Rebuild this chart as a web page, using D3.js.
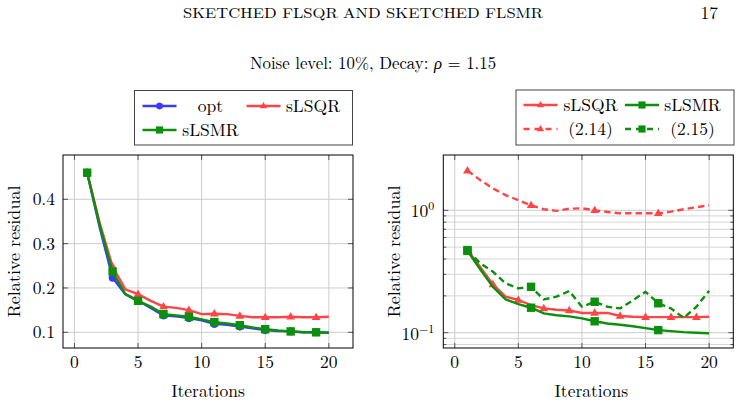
<!DOCTYPE html>
<html><head><meta charset="utf-8">
<script src="https://cdn.jsdelivr.net/npm/d3@7"></script>
<style>
html,body{margin:0;padding:0;background:#fff;}
svg text{font-family:"Latin Modern Roman","Liberation Serif","DejaVu Serif",serif;fill:#000;}
</style></head>
<body>
<script>
// ---------- data ----------
const iterations = [1,2,3,4,5,6,7,8,9,10,11,12,13,14,15,16,17,18,19,20];
const optLeft   = [0.460,0.335,0.223,0.186,0.171,0.155,0.138,0.136,0.132,0.127,0.119,0.117,0.113,0.109,0.105,0.103,0.102,0.100,0.100,0.099];
const sLSQRLeft = [0.460,0.345,0.248,0.197,0.186,0.171,0.158,0.155,0.150,0.141,0.142,0.141,0.137,0.134,0.134,0.134,0.135,0.134,0.134,0.135];
const sLSMRLeft = [0.460,0.340,0.237,0.186,0.171,0.158,0.141,0.138,0.135,0.129,0.123,0.120,0.116,0.111,0.107,0.104,0.102,0.100,0.100,0.099];
const sLSQRRight = [0.474,0.345,0.248,0.197,0.185,0.168,0.158,0.154,0.152,0.145,0.145,0.145,0.137,0.135,0.134,0.134,0.134,0.134,0.134,0.135];
const sLSMRRight = [0.466,0.330,0.237,0.187,0.171,0.160,0.144,0.139,0.136,0.131,0.124,0.119,0.116,0.113,0.109,0.105,0.103,0.101,0.100,0.099];
const eq214 = [2.11,1.77,1.51,1.33,1.21,1.10,1.02,0.99,1.03,1.04,1.00,0.97,0.945,0.945,0.945,0.945,0.975,1.02,1.06,1.10];
const eq215 = [0.473,0.369,0.315,0.253,0.230,0.237,0.187,0.197,0.219,0.163,0.179,0.163,0.158,0.184,0.216,0.174,0.158,0.132,0.163,0.220];
const xTicks = [0,5,10,15,20];
const yTicksLeft = [0.1,0.2,0.3,0.4];
const yTicksRightMajor = [0.1,1];
const yTicksRightMinor = [0.08,0.09,0.2,0.3,0.4,0.5,0.6,0.7,0.8,0.9];
const headerText = "SKETCHED FLSQR AND SKETCHED FLSMR";
const pageNumber = "17";
const legendLeft = ["opt","sLSQR","sLSMR"];
const legendRight = ["sLSQR","sLSMR","(2.14)","(2.15)"];

// ---------- styles ----------
const BLUE="#3a3aff", RED="#ff4545", GREEN="#0c8f0c";
const FS=17.5;

const W=742,H=405;
const svg=d3.select("body").append("svg").attr("width",W).attr("height",H);

// header
svg.append("text").attr("x",363).attr("y",18).attr("text-anchor","middle")
  .attr("font-size",14).attr("textLength",360).attr("lengthAdjust","spacingAndGlyphs").text(headerText);
svg.append("text").attr("x",718).attr("y",19).attr("text-anchor","end").attr("font-size",FS).text(pageNumber);
const title=svg.append("text").attr("x",373).attr("y",69).attr("text-anchor","middle").attr("font-size",16.8);
title.append("tspan").text("Noise level: 10%, Decay: ");
title.append("tspan").attr("font-style","italic").text("ρ");
title.append("tspan").text(" = 1.15");

function markerPath(g, type, x, y, color, small){
  const k=small?0.85:1;
  if(type==="circle"){
    g.append("circle").attr("cx",x).attr("cy",y).attr("r",3.6*k).attr("fill",color).attr("stroke",color).attr("stroke-width",1);
  } else if(type==="square"){
    g.append("rect").attr("x",x-4.2*k).attr("y",y-4.2*k).attr("width",8.4*k).attr("height",8.4*k).attr("fill",color);
  } else if(type==="triangle"){
    const s=4.6*k;
    g.append("path").attr("d",`M${x},${y-s}L${x+s*0.95},${y+s*0.6}L${x-s*0.95},${y+s*0.6}Z`).attr("fill",color);
  }
}

function panel(cfg){
  const {x0,x1,y0,y1}=cfg;
  const g=svg.append("g");
  const xs=d3.scaleLinear().domain([-0.9,21.9]).range([x0,x1]);
  const ys=cfg.log? d3.scaleLog().domain(cfg.ydom).range([y1,y0]) : d3.scaleLinear().domain(cfg.ydom).range([y1,y0]);
  if(cfg.minor){
    g.selectAll(".mg").data(cfg.minor).join("line")
      .attr("x1",x0).attr("x2",x1).attr("y1",d=>ys(d)).attr("y2",d=>ys(d))
      .attr("stroke","#d6d6d6").attr("stroke-width",1);
  }
  g.selectAll(".gx").data(xTicks).join("line")
    .attr("x1",d=>xs(d)).attr("x2",d=>xs(d)).attr("y1",y0).attr("y2",y1)
    .attr("stroke","#cccccc").attr("stroke-width",1);
  g.selectAll(".gy").data(cfg.yticks).join("line")
    .attr("x1",x0).attr("x2",x1).attr("y1",d=>ys(d)).attr("y2",d=>ys(d))
    .attr("stroke","#cccccc").attr("stroke-width",1);
  const tk=g.append("g").attr("stroke","#555").attr("stroke-width",1);
  xTicks.forEach(d=>{
    tk.append("line").attr("x1",xs(d)).attr("x2",xs(d)).attr("y1",y1).attr("y2",y1-5);
    tk.append("line").attr("x1",xs(d)).attr("x2",xs(d)).attr("y1",y0).attr("y2",y0+5);
  });
  cfg.yticks.forEach(d=>{
    tk.append("line").attr("x1",x0).attr("x2",x0+5).attr("y1",ys(d)).attr("y2",ys(d));
    tk.append("line").attr("x1",x1).attr("x2",x1-5).attr("y1",ys(d)).attr("y2",ys(d));
  });
  if(cfg.minor){
    cfg.minor.forEach(d=>{
      tk.append("line").attr("x1",x0).attr("x2",x0+3).attr("y1",ys(d)).attr("y2",ys(d));
      tk.append("line").attr("x1",x1).attr("x2",x1-3).attr("y1",ys(d)).attr("y2",ys(d));
    });
  }
  const clip="clip"+Math.round(x0);
  svg.append("clipPath").attr("id",clip).append("rect").attr("x",x0).attr("y",y0).attr("width",x1-x0).attr("height",y1-y0);
  const sg=g.append("g").attr("clip-path",`url(#${clip})`);
  cfg.series.forEach(s=>{
    const line=d3.line().x((d,i)=>xs(iterations[i])).y(d=>ys(d));
    sg.append("path").datum(s.values).attr("d",line).attr("fill","none")
      .attr("stroke",s.color).attr("stroke-width",2.4).attr("stroke-linejoin","round")
      .attr("stroke-dasharray",s.dash?"6.5,4":null);
    s.values.forEach((v,i)=>{
      if(s.marks.includes(iterations[i])) markerPath(sg,s.marker,xs(iterations[i]),ys(v),s.color);
    });
  });
  g.append("rect").attr("x",x0).attr("y",y0).attr("width",x1-x0).attr("height",y1-y0)
    .attr("fill","none").attr("stroke","#000").attr("stroke-width",1);
  g.selectAll(".xl").data(xTicks).join("text")
    .attr("x",d=>xs(d)).attr("y",y1+20).attr("text-anchor","middle").attr("font-size",FS).text(d=>d);
  if(!cfg.log){
    g.selectAll(".yl").data(cfg.yticks).join("text")
      .attr("x",x0-8).attr("y",d=>ys(d)+6).attr("text-anchor","end").attr("font-size",FS).text(d=>d3.format(".1f")(d));
  } else {
    cfg.yticks.forEach(d=>{
      const t=g.append("text").attr("x",x0-9).attr("y",ys(d)+7).attr("text-anchor","end").attr("font-size",FS);
      const e=Math.round(Math.log10(d));
      t.append("tspan").text("10");
      t.append("tspan").attr("dy",-7).attr("font-size",12).text(e<0?"\u2212"+(-e):String(e));
    });
  }
  g.append("text").attr("x",(x0+x1)/2+(cfg.log?3:0)).attr("y",y1+49).attr("text-anchor","middle").attr("font-size",FS).text("Iterations");
  g.append("text").attr("transform",`translate(${cfg.ylabX},${(y0+y1)/2}) rotate(-90)`)
    .attr("text-anchor","middle").attr("font-size",FS).attr("textLength",132).attr("lengthAdjust","spacingAndGlyphs").text("Relative residual");
  return {xs,ys};
}

const odd=[1,3,5,7,9,11,13,15,17,19];
const every5=[1,6,11,16];

panel({x0:63,x1:353,y0:155,y1:348,ydom:[0.0646,0.4999],yticks:yTicksLeft,ylabX:20,
  series:[
    {values:optLeft,color:BLUE,marker:"circle",marks:odd},
    {values:sLSQRLeft,color:RED,marker:"triangle",marks:odd},
    {values:sLSMRLeft,color:GREEN,marker:"square",marks:odd}
  ]});

panel({x0:443.3,x1:733.3,y0:155,y1:348,log:true,ydom:[Math.pow(10,-1.125),Math.pow(10,0.452)],
  yticks:yTicksRightMajor,minor:yTicksRightMinor,ylabX:400,
  series:[
    {values:sLSQRRight,color:RED,marker:"triangle",marks:odd},
    {values:sLSMRRight,color:GREEN,marker:"square",marks:every5},
    {values:eq214,color:RED,marker:"triangle",marks:every5,dash:true},
    {values:eq215,color:GREEN,marker:"square",marks:every5,dash:true}
  ]});

function legend(box, entries){
  const g=svg.append("g");
  g.append("rect").attr("x",box.x).attr("y",box.y).attr("width",box.w).attr("height",box.h)
    .attr("fill","#fff").attr("stroke","#444").attr("stroke-width",1);
  entries.forEach(e=>{
    g.append("line").attr("x1",e.lx).attr("x2",e.lx+34).attr("y1",e.y).attr("y2",e.y)
      .attr("stroke",e.color).attr("stroke-width",2.4).attr("stroke-dasharray",e.dash?"6,5":null);
    markerPath(g,e.marker,e.lx+17,e.y,e.color,true);
    g.append("text").attr("x",e.tx).attr("y",e.y+6).attr("text-anchor","middle").attr("font-size",FS).text(e.label);
  });
}
legend({x:134.5,y:90.5,w:218,h:54.5},[
  {label:legendLeft[0],color:BLUE,marker:"circle",lx:142.5,tx:210.5,y:106},
  {label:legendLeft[1],color:RED,marker:"triangle",lx:246.5,tx:313,y:106},
  {label:legendLeft[2],color:GREEN,marker:"square",lx:142.5,tx:210.5,y:130}
]);
legend({x:516,y:90,w:218,h:55},[
  {label:legendRight[0],color:RED,marker:"triangle",lx:523.5,tx:590.5,y:105},
  {label:legendRight[1],color:GREEN,marker:"square",lx:625,tx:692.5,y:105},
  {label:legendRight[2],color:RED,marker:"triangle",lx:523.5,tx:590.5,y:129,dash:true},
  {label:legendRight[3],color:GREEN,marker:"square",lx:625,tx:692.5,y:129,dash:true}
]);
</script>
</body></html>
